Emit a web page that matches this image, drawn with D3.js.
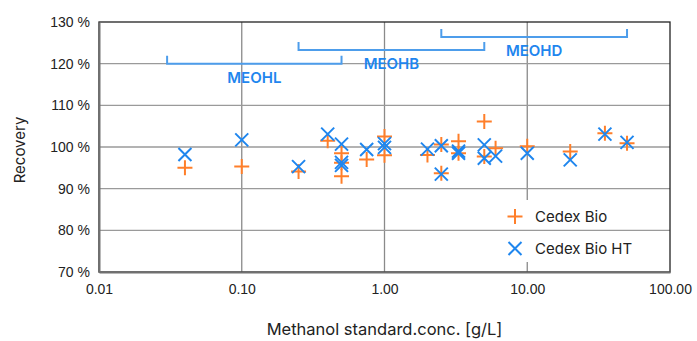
<!DOCTYPE html>
<html>
<head>
<meta charset="utf-8">
<script src="https://cdn.jsdelivr.net/npm/d3@7"></script>
<style>
  body { margin: 0; background: #fff; }
  svg { display: block; font-family: "Liberation Sans", Arial, sans-serif; }
</style>
</head>
<body>
<div id="chart"></div>
<script>
// methanol standard concentration [g/L] for each measurement
const conc = [0.04, 0.1, 0.25, 0.4, 0.5, 0.5, 0.5, 0.75, 1, 1, 2, 2.5, 2.5, 3.3, 3.3, 5, 5, 6, 10, 20, 35, 50];
// recovery in %
const cedexBio = [95.0, 95.3, 94.1, 101.5, 98.5, 96.2, 93.0, 97.0, 102.5, 98.0, 98.1, 100.6, 93.7, 101.4, 98.5, 106.1, 97.7, 99.7, 100.2, 98.9, 103.3, 100.9];
const cedexBioHT = [98.2, 101.7, 95.3, 103.1, 100.7, 96.3, 95.6, 99.4, 100.8, 99.9, 99.5, 100.3, 93.5, 99.0, 98.5, 100.5, 97.3, 97.8, 98.5, 96.9, 103.1, 101.1];

// measuring ranges of the methanol applications
const rangeNames = ["MEOHL", "MEOHB", "MEOHD"];
const rangeLow = [0.03, 0.25, 2.5];
const rangeHigh = [0.5, 5, 50];
const rangeLevel = [120, 123.3, 126.4];

const xTicks = [0.01, 0.1, 1, 10, 100];
const yTicks = [70, 80, 90, 100, 110, 120, 130];

const width = 697, height = 341;
const margin = {top: 22, right: 27, bottom: 69, left: 99};
const orange = "#ff7f2a";
const blue = "#1f86ee";
const bracketBlue = "#4d9deb";
const titleFont = "Inter, 'Open Sans', sans-serif";

const x = d3.scaleLog().domain([0.01, 100]).range([margin.left, width - margin.right]);
const y = d3.scaleLinear().domain([70, 130]).range([height - margin.bottom, margin.top]);

const svg = d3.select("#chart").append("svg")
    .attr("width", width)
    .attr("height", height);

// vertical grid at the decades
svg.append("g")
    .selectAll("line")
    .data(xTicks.slice(1, -1))
    .join("line")
    .attr("x1", d => x(d)).attr("x2", d => x(d))
    .attr("y1", margin.top).attr("y2", height - margin.bottom)
    .attr("stroke", "#8a8a8a")
    .attr("stroke-width", 1.3);

// legend background hides the vertical grid
const legendX = 505, legendY = 200;
svg.append("rect")
    .attr("x", legendX).attr("y", legendY)
    .attr("width", 160).attr("height", 62)
    .attr("fill", "#fff");

// horizontal grid
svg.append("g")
    .selectAll("line")
    .data(yTicks.slice(1, -1))
    .join("line")
    .attr("x1", margin.left).attr("x2", width - margin.right)
    .attr("y1", d => y(d)).attr("y2", d => y(d))
    .attr("stroke", "#9a9a9a")
    .attr("stroke-width", 1.3);

// frame
svg.append("rect")
    .attr("x", margin.left).attr("y", margin.top)
    .attr("width", width - margin.left - margin.right)
    .attr("height", height - margin.top - margin.bottom)
    .attr("fill", "none")
    .attr("stroke", "#222")
    .attr("stroke-width", 1.3);

// axes
const yAxis = svg.append("g")
    .attr("transform", `translate(${margin.left},0)`)
    .call(d3.axisLeft(y).tickValues(yTicks).tickSize(0).tickPadding(9).tickFormat(d => d + " %"));
const xAxis = svg.append("g")
    .attr("transform", `translate(0,${height - margin.bottom})`)
    .call(d3.axisBottom(x).tickValues(xTicks).tickSize(0).tickPadding(12).tickFormat(d3.format(".2f")));
[yAxis, xAxis].forEach(g => {
    g.select(".domain").attr("stroke", "#707070").attr("stroke-width", 2);
    g.selectAll("text").attr("font-size", 14).attr("fill", "#222").attr("font-family", "Liberation Sans, Arial, sans-serif");
});

svg.append("text")
    .attr("x", x(1)).attr("y", 335)
    .attr("text-anchor", "middle")
    .attr("font-family", titleFont)
    .attr("font-size", 16.5)
    .attr("fill", "#222")
    .text("Methanol standard.conc. [g/L]");

svg.append("text")
    .attr("transform", `translate(25,${y(100) + 3}) rotate(-90)`)
    .attr("text-anchor", "middle")
    .attr("font-family", titleFont)
    .attr("font-size", 15)
    .attr("fill", "#222")
    .text("Recovery");

// measuring range brackets
const ranges = rangeNames.map((name, i) => ({name, low: rangeLow[i], high: rangeHigh[i], level: rangeLevel[i]}));
const bracket = svg.append("g")
    .selectAll("g")
    .data(ranges)
    .join("g");
bracket.append("path")
    .attr("fill", "none")
    .attr("stroke", bracketBlue)
    .attr("stroke-width", 2)
    .attr("d", d => `M${x(d.low)},${y(d.level) - 8}V${y(d.level)}H${x(d.high)}V${y(d.level) - 8}`);
bracket.append("text")
    .attr("x", d => (x(d.low) + x(d.high)) / 2)
    .attr("y", d => y(d.level) + 19)
    .attr("text-anchor", "middle")
    .attr("font-family", titleFont)
    .attr("font-size", 15)
    .attr("font-weight", 600)
    .attr("fill", blue)
    .text(d => d.name);

// markers
function drawPlus(g, cx, cy, r, color) {
    g.append("path")
        .attr("d", `M${cx - r},${cy}H${cx + r}M${cx},${cy - r}V${cy + r}`)
        .attr("stroke", color).attr("stroke-width", 2).attr("fill", "none");
}
function drawCross(g, cx, cy, r, color) {
    g.append("path")
        .attr("d", `M${cx - r},${cy - r}L${cx + r},${cy + r}M${cx - r},${cy + r}L${cx + r},${cy - r}`)
        .attr("stroke", color).attr("stroke-width", 2).attr("fill", "none");
}

const pts = svg.append("g");
conc.forEach((c, i) => drawPlus(pts, x(c), y(cedexBio[i]), 7.5, orange));
conc.forEach((c, i) => drawCross(pts, x(c), y(cedexBioHT[i]), 6.5, blue));

// legend
const legend = svg.append("g").attr("font-family", titleFont).attr("font-size", 15).attr("fill", "#222");
drawPlus(legend, 515, 216.5, 7.5, orange);
drawCross(legend, 515, 248.5, 6.5, blue);
legend.append("text").attr("x", 535).attr("y", 222).text("Cedex Bio");
legend.append("text").attr("x", 535).attr("y", 254).text("Cedex Bio HT");
</script>
</body>
</html>
